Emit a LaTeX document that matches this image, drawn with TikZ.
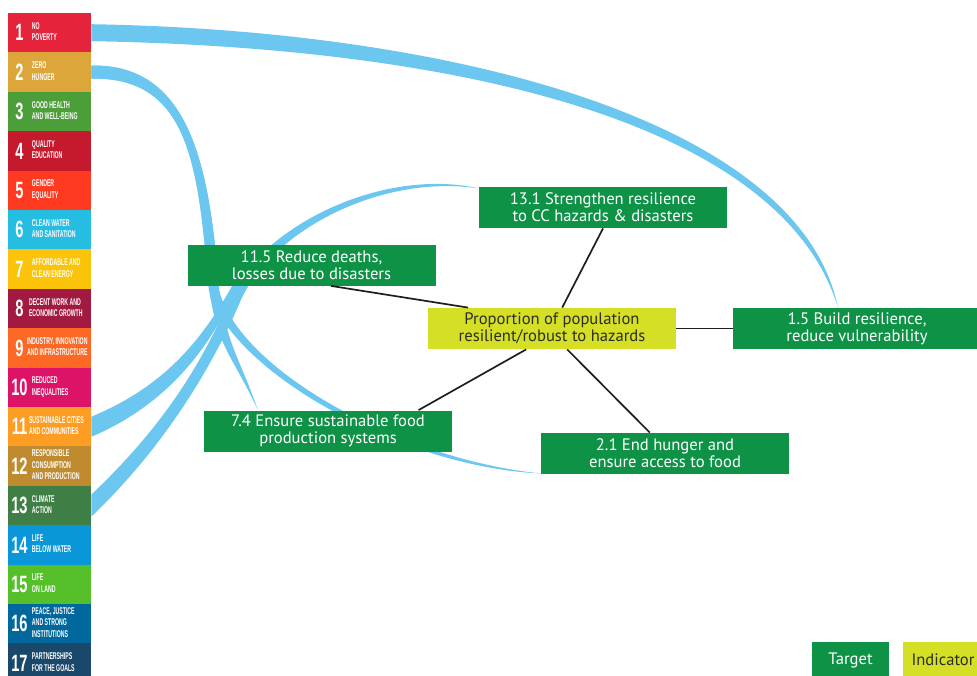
\documentclass[tikz,border=0pt]{standalone}
\usepackage{fontspec}
\setmainfont{PT Sans}
\newfontfamily\goalnumfont[FakeStretch=0.62]{Liberation Sans}
\newfontfamily\goaltxtfont[FakeStretch=0.53]{Liberation Sans}
\usetikzlibrary{calc,backgrounds}
\definecolor{sdg1}{RGB}{229, 36, 59}
\definecolor{sdg2}{RGB}{221, 166, 58}
\definecolor{sdg3}{RGB}{76, 159, 56}
\definecolor{sdg4}{RGB}{197, 25, 45}
\definecolor{sdg5}{RGB}{255, 58, 33}
\definecolor{sdg6}{RGB}{38, 189, 226}
\definecolor{sdg7}{RGB}{252, 195, 11}
\definecolor{sdg8}{RGB}{162, 25, 66}
\definecolor{sdg9}{RGB}{253, 105, 37}
\definecolor{sdg10}{RGB}{221, 19, 103}
\definecolor{sdg11}{RGB}{253, 157, 36}
\definecolor{sdg12}{RGB}{191, 139, 46}
\definecolor{sdg13}{RGB}{63, 126, 68}
\definecolor{sdg14}{RGB}{10, 151, 217}
\definecolor{sdg15}{RGB}{86, 192, 43}
\definecolor{sdg16}{RGB}{0, 104, 157}
\definecolor{sdg17}{RGB}{25, 72, 106}
\definecolor{sdggreen}{RGB}{14, 146, 70}
\definecolor{sdgyellow}{RGB}{213, 223, 38}
\definecolor{bandblue}{RGB}{108, 199, 240}
\definecolor{inktext}{RGB}{45, 45, 40}
\definecolor{inkline}{RGB}{30, 30, 30}
\newcommand{\goal}[3][0pt]{%
  \hbox to 41.5pt{\hspace{1.5pt}$\vcenter{\hbox to 8.5pt{\hss\goalnumfont\bfseries\fontsize{11.8}{12}\selectfont #2\hss}}$%
  \hspace{2pt}\hspace{#1}$\vcenter{\hbox{\goaltxtfont\bfseries\fontsize{4.9}{5.7}\selectfont\begin{tabular}{@{}l@{}}#3\end{tabular}}}$\hss}}

\begin{document}
\begin{tikzpicture}[x = 0.5pt, y = -0.5pt,
    tile/.style = {inner sep = 0pt, minimum width = 41.5pt, minimum height = 19.8pt, text = white},
    target/.style = {fill = sdggreen, text = white, inner sep = 0pt, minimum width = 124pt,
      minimum height = 20.5pt, align = center, font = \fontsize{8.3}{8.6}\selectfont},
    indicator/.style = {target, fill = sdgyellow, text = inktext},
    band/.style = {fill = bandblue},
    link/.style = {draw = inkline, line width = 0.85pt}]
			\useasboundingbox (0,0) rectangle (977,675);
			\clip (0,0) rectangle (977,675);
			% goals column
			\node (g1) at (49.5,32.7) [tile, fill = sdg1] {\goal{1}{NO\\POVERTY}};
			\node (g2) at (49.5,72.1) [tile, fill = sdg2] {\goal{2}{ZERO\\HUNGER}};
			\node (g3) at (49.5,111.5) [tile, fill = sdg3] {\goal{3}{GOOD HEALTH\\AND WELL-BEING}};
			\node (g4) at (49.5,150.9) [tile, fill = sdg4] {\goal{4}{QUALITY\\EDUCATION}};
			\node (g5) at (49.5,190.3) [tile, fill = sdg5] {\goal{5}{GENDER\\EQUALITY}};
			\node (g6) at (49.5,229.7) [tile, fill = sdg6] {\goal{6}{CLEAN WATER\\AND SANITATION}};
			\node (g7) at (49.5,269.1) [tile, fill = sdg7] {\goal{7}{AFFORDABLE AND\\CLEAN ENERGY}};
			\node (g8) at (49.5,308.5) [tile, fill = sdg8] {\goal[-1.5pt]{8}{DECENT WORK AND\\ECONOMIC GROWTH}};
			\node (g9) at (49.5,347.9) [tile, fill = sdg9] {\goal[-2.5pt]{9}{INDUSTRY, INNOVATION\\AND INFRASTRUCTURE}};
			\node (g10) at (49.5,387.3) [tile, fill = sdg10] {\goal{10}{REDUCED\\INEQUALITIES}};
			\node (g11) at (49.5,426.7) [tile, fill = sdg11] {\goal[-1.5pt]{11}{SUSTAINABLE CITIES\\AND COMMUNITIES}};
			\node (g12) at (49.5,466.1) [tile, fill = sdg12] {\goal{12}{RESPONSIBLE\\CONSUMPTION\\AND PRODUCTION}};
			\node (g13) at (49.5,505.5) [tile, fill = sdg13] {\goal{13}{CLIMATE\\ACTION}};
			\node (g14) at (49.5,544.9) [tile, fill = sdg14] {\goal{14}{LIFE\\BELOW WATER}};
			\node (g15) at (49.5,584.3) [tile, fill = sdg15] {\goal{15}{LIFE\\ON LAND}};
			\node (g16) at (49.5,623.7) [tile, fill = sdg16] {\goal{16}{PEACE, JUSTICE\\AND STRONG\\INSTITUTIONS}};
			\node (g17) at (49.5,663.1) [tile, fill = sdg17] {\goal{17}{PARTNERSHIPS\\FOR THE GOALS}};
			% targets and indicator
			\node (ind) at (552,328.5) [indicator] {Proportion of population\\resilient/robust to hazards};
			\node (t131) at (603,207.5) [target] {13.1 Strengthen resilience\\to CC hazards \& disasters};
			\node (t115) at (311.5,265) [target] {11.5 Reduce deaths,\\losses due to disasters};
			\node (t15) at (857,328.5) [target] {1.5 Build resilience,\\reduce vulnerability};
			\node (t74) at (328,431) [target] {7.4 Ensure sustainable food\\production systems};
			\node (t21) at (665,453.5) [target] {2.1 End hunger and\\ensure access to food};
			\node (keyt) at (850.5,660) [target, minimum width = 38.5pt, minimum height = 18pt] {Target};
			\node (keyi) at (943,660) [indicator, minimum width = 40pt, minimum height = 18pt] {Indicator};
			\draw[link] (ind.166) -- (t115.-47);
			\draw[link] (ind.64) -- (t131.south);
			\draw[link] (ind.east) -- (t15.west);
			\draw[link] (ind.-141) -- (t74.13);
			\draw[link] (ind.-54) -- (t21.126);
			% goal bands
			\begin{scope}[on background layer]
			\fill[band] ($(g1.east)+(0,-8.5)$) .. controls +(359,6) and +(-39,-188) .. ($(t15.north)+(-19,0)$)
			  .. controls +(-57,-188) and +(359,6) .. ($(g1.east)+(0,8.5)$) -- cycle;
			\fill[band] ($(g2.east)+(0,-6.5)$) .. controls +(100,-2) and +(-9,-120) .. (219,290)
			  .. controls +(10,60) and +(-22,-61) .. ($(t74.north)+(-70,0)$)
			  .. controls +(-28,-59) and +(10,60) .. (209,290)
			  .. controls +(-11,-120) and +(100,-2) .. ($(g2.east)+(0,6.5)$) -- cycle;
			\fill[band] ($(g2.east)+(0,-6.5)$) .. controls +(100,-2) and +(-9,-120) .. (219,290)
			  .. controls +(20,80) and +(-140,-14) .. ($(t21.south west)+(0,-1)$)
			  .. controls +(-140,-6) and +(20,80) .. (209,290)
			  .. controls +(-11,-120) and +(100,-2) .. ($(g2.east)+(0,6.5)$) -- cycle;
			\fill[band] ($(g11.east)+(0,-10)$) .. controls +(74,-31) and +(-41.5,87.5) .. ($(t115.south)+(-61.5,-35)$)
			  .. controls +(-28.5,92.5) and +(74,-31) .. ($(g11.east)+(0,10)$) -- cycle;
			\fill[band] ($(g13.east)+(0,-11)$) .. controls +(69,-65.5) and +(-30,70) .. (230,298)
			  .. controls +(30,-70) and +(-98.4,-22.5) .. ($(t131.north west)+(1,2)$)
			  .. controls +(-99.6,-15.5) and +(30,-70) .. (240,302)
			  .. controls +(-30,70) and +(69,-65.5) .. ($(g13.east)+(0,11)$) -- cycle;
			\end{scope}
			\end{tikzpicture}
\end{document}
